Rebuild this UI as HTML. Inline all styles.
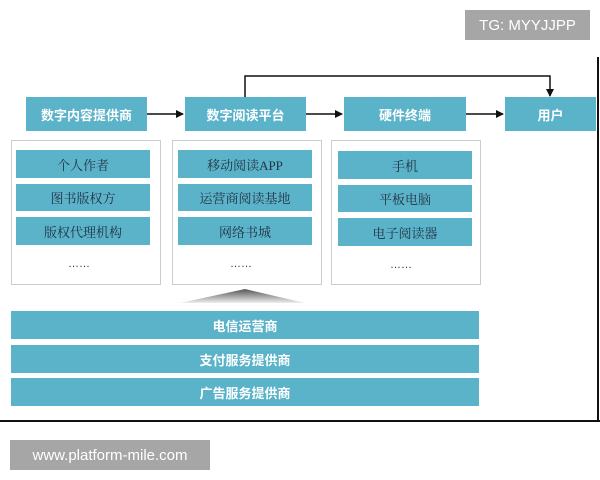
<!DOCTYPE html>
<html><head><meta charset="utf-8"><style>
body{margin:0;width:600px;height:480px;background:#fff;position:relative;overflow:hidden;font-family:"Liberation Sans","Noto Sans CJK SC",sans-serif}
.a{position:absolute}
.h{position:absolute;background:#5bb3c9;color:#fff;font-weight:bold;font-size:13px;display:flex;align-items:center;justify-content:center}
.p{position:absolute;border:1px solid #ccc;background:#fff}
.i{position:absolute;background:#5bb3c9;color:#234;font-family:"Liberation Serif","Noto Serif CJK SC",serif;font-size:13px;display:flex;align-items:center;justify-content:center}
.d{position:absolute;font-size:11px;color:#333;letter-spacing:0px}
.b{position:absolute;left:11px;width:468px;height:28px;background:#5bb3c9;color:#fff;font-weight:bold;font-size:13px;display:flex;align-items:center;justify-content:center}
.w{position:absolute;background:#a6a6a6;color:#fff;font-size:15px;display:flex;align-items:center;justify-content:center}
</style></head><body>
<div class="w" style="left:465px;top:10px;width:125px;height:30px">TG: MYYJJPP</div>
<div class="w" style="left:10px;top:440px;width:200px;height:30px">www.platform-mile.com</div>
<div class="a" style="left:0;top:420px;width:600px;height:2px;background:#111"></div>
<div class="a" style="left:597px;top:57px;width:2px;height:365px;background:#111"></div>
<svg class="a" style="left:0;top:0" width="600" height="480">
<defs><marker id="m" markerWidth="8" markerHeight="8" refX="7" refY="4" orient="auto" markerUnits="userSpaceOnUse"><path d="M0,0 L8,4 L0,8z" fill="#111"/></marker>
<linearGradient id="g" x1="0" y1="0" x2="0" y2="1"><stop offset="0" stop-color="#555"/><stop offset="1" stop-color="#eee"/></linearGradient></defs>
<path d="M245,97 V76 H550 V96" fill="none" stroke="#111" stroke-width="1.5" marker-end="url(#m)"/>
<line x1="147" y1="114" x2="183" y2="114" stroke="#111" stroke-width="1.5" marker-end="url(#m)"/>
<line x1="306" y1="114" x2="342" y2="114" stroke="#111" stroke-width="1.5" marker-end="url(#m)"/>
<line x1="466" y1="114" x2="503" y2="114" stroke="#111" stroke-width="1.5" marker-end="url(#m)"/>
<path d="M180,303 L245,289 L305,303z" fill="url(#g)"/>
</svg>
<div class="h" style="left:26px;top:97px;width:121px;height:34px">数字内容提供商</div>
<div class="h" style="left:185px;top:97px;width:121px;height:34px">数字阅读平台</div>
<div class="h" style="left:344px;top:97px;width:122px;height:34px">硬件终端</div>
<div class="h" style="left:505px;top:97px;width:91px;height:34px">用户</div>
<div class="p" style="left:11px;top:140px;width:148px;height:143px"></div>
<div class="p" style="left:172px;top:140px;width:148px;height:143px"></div>
<div class="p" style="left:331px;top:140px;width:148px;height:143px"></div>
<div class="i" style="left:16px;top:150px;width:134px;height:28px">个人作者</div>
<div class="i" style="left:16px;top:184px;width:134px;height:27px">图书版权方</div>
<div class="i" style="left:16px;top:217px;width:134px;height:28px">版权代理机构</div>
<div class="i" style="left:178px;top:150px;width:134px;height:28px">移动阅读APP</div>
<div class="i" style="left:178px;top:184px;width:134px;height:27px">运营商阅读基地</div>
<div class="i" style="left:178px;top:217px;width:134px;height:28px">网络书城</div>
<div class="i" style="left:338px;top:151px;width:134px;height:28px">手机</div>
<div class="i" style="left:338px;top:185px;width:134px;height:27px">平板电脑</div>
<div class="i" style="left:338px;top:218px;width:134px;height:28px">电子阅读器</div>
<div class="d" style="left:68px;top:258px">……</div>
<div class="d" style="left:230px;top:258px">……</div>
<div class="d" style="left:390px;top:259px">……</div>
<div class="b" style="top:311px">电信运营商</div>
<div class="b" style="top:345px">支付服务提供商</div>
<div class="b" style="top:378px">广告服务提供商</div>
</body></html>
